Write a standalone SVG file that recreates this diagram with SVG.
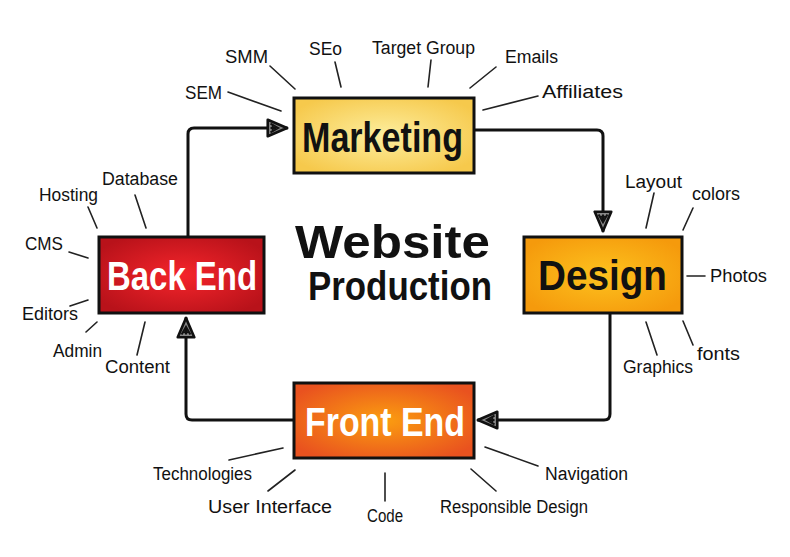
<svg xmlns="http://www.w3.org/2000/svg" width="790" height="557" viewBox="0 0 790 557">
<style>
.lbl{font-family:"Liberation Sans",sans-serif;font-size:18px;fill:#111;}
.tick{stroke:#222;stroke-width:1.6;fill:none;stroke-linecap:round;}
.conn{stroke:#111;stroke-width:3;fill:none;stroke-linejoin:round;stroke-linecap:round;}
.box{stroke:#111;stroke-width:3;}
.title{font-family:"Liberation Sans",sans-serif;font-weight:bold;}
</style>
<defs>
<radialGradient id="gMk" cx="50%" cy="50%" r="60%"><stop offset="0" stop-color="#fdee9e"/><stop offset="1" stop-color="#f6c94c"/></radialGradient>
<radialGradient id="gDs" cx="50%" cy="50%" r="60%"><stop offset="0" stop-color="#fdc21e"/><stop offset="1" stop-color="#f59a0c"/></radialGradient>
<radialGradient id="gBe" cx="50%" cy="50%" r="60%"><stop offset="0" stop-color="#f5252b"/><stop offset="1" stop-color="#b8121a"/></radialGradient>
<radialGradient id="gFe" cx="50%" cy="50%" r="60%"><stop offset="0" stop-color="#fb9d10"/><stop offset="1" stop-color="#e9521f"/></radialGradient>
<marker id="ah" viewBox="0 0 20 18" refX="19" refY="9" markerWidth="22" markerHeight="20" markerUnits="userSpaceOnUse" orient="auto">
<path d="M1.5,1.5 L19,9 L1.5,16.5 Z" fill="#888" stroke="#111" stroke-width="2.4" stroke-linejoin="round"/>
<path d="M4,5 L11,9 L4,13 M6,6 L6,12 M4,9 L9,9" fill="none" stroke="#111" stroke-width="1.8"/>
</marker>
</defs>
<rect width="790" height="557" fill="#fff"/>

<g id="connectors">
<path class="conn" d="M188,237 L188,134 Q188,128 194,128 L287,128" marker-end="url(#ah)"/>
<path class="conn" d="M474,130 L597,130 Q603,130 603,136 L603,231" marker-end="url(#ah)"/>
<path class="conn" d="M610,313 L610,414 Q610,420 604,420 L478,420" marker-end="url(#ah)"/>
<path class="conn" d="M294,420 L192,420 Q186,420 186,414 L186,318" marker-end="url(#ah)"/>
</g>

<g id="center">
<text class="title" x="295" y="258" font-size="46" fill="#111" textLength="195" lengthAdjust="spacingAndGlyphs">Website</text>
<text class="title" x="308" y="300" font-size="40" fill="#111" textLength="184" lengthAdjust="spacingAndGlyphs">Production</text>
</g>

<g id="marketing">
<rect class="box" x="294" y="98" width="180" height="75" fill="url(#gMk)"/>
<text class="title" x="302" y="152" font-size="42" fill="#111" textLength="161" lengthAdjust="spacingAndGlyphs">Marketing</text>
<path class="tick" d="M228,92 L281,111 M270,66 L295,89 M335,62 L341,87 M431,60 L428,87 M496,67 L470,88 M538,96 L483,110"/>
<text class="lbl" x="185" y="99" textLength="37" lengthAdjust="spacingAndGlyphs">SEM</text>
<text class="lbl" x="225" y="63" textLength="43" lengthAdjust="spacingAndGlyphs">SMM</text>
<text class="lbl" x="309" y="55" textLength="33" lengthAdjust="spacingAndGlyphs">SEo</text>
<text class="lbl" x="372" y="54" textLength="103" lengthAdjust="spacingAndGlyphs">Target Group</text>
<text class="lbl" x="505" y="63" textLength="53" lengthAdjust="spacingAndGlyphs">Emails</text>
<text class="lbl" x="542" y="98" textLength="81" lengthAdjust="spacingAndGlyphs">Affiliates</text>
</g>

<g id="design">
<rect class="box" x="524" y="237" width="158" height="76" fill="url(#gDs)"/>
<text class="title" x="538" y="290" font-size="42" fill="#111" textLength="129" lengthAdjust="spacingAndGlyphs">Design</text>
<path class="tick" d="M654,193 L646,228 M693,208 L683,230 M687,276 L705,276 M683,321 L693,345 M646,322 L657,355"/>
<text class="lbl" x="625" y="188" textLength="57" lengthAdjust="spacingAndGlyphs">Layout</text>
<text class="lbl" x="692" y="200" textLength="48" lengthAdjust="spacingAndGlyphs">colors</text>
<text class="lbl" x="710" y="282" textLength="57" lengthAdjust="spacingAndGlyphs">Photos</text>
<text class="lbl" x="697" y="360" textLength="43" lengthAdjust="spacingAndGlyphs">fonts</text>
<text class="lbl" x="623" y="373" textLength="70" lengthAdjust="spacingAndGlyphs">Graphics</text>
</g>

<g id="backend">
<rect class="box" x="99" y="237" width="165" height="76" fill="url(#gBe)"/>
<text class="title" x="107" y="290" font-size="40" fill="#fff" textLength="150" lengthAdjust="spacingAndGlyphs">Back End</text>
<path class="tick" d="M135,195 L146,228 M88,207 L97,228 M69,252 L88,258 M70,306 L88,300 M86,332 L97,322 M137,355 L145,322"/>
<text class="lbl" x="102" y="185" textLength="76" lengthAdjust="spacingAndGlyphs">Database</text>
<text class="lbl" x="39" y="201" textLength="59" lengthAdjust="spacingAndGlyphs">Hosting</text>
<text class="lbl" x="25" y="250" textLength="38" lengthAdjust="spacingAndGlyphs">CMS</text>
<text class="lbl" x="22" y="320" textLength="56" lengthAdjust="spacingAndGlyphs">Editors</text>
<text class="lbl" x="53" y="357" textLength="49" lengthAdjust="spacingAndGlyphs">Admin</text>
<text class="lbl" x="105" y="373" textLength="65" lengthAdjust="spacingAndGlyphs">Content</text>
</g>

<g id="frontend">
<rect class="box" x="294" y="383" width="180" height="75" fill="url(#gFe)"/>
<text class="title" x="305" y="436" font-size="40" fill="#fff" textLength="160" lengthAdjust="spacingAndGlyphs">Front End</text>
<path class="tick" d="M229,460 L283,448 M268,491 L295,470 M385,501 L385,473 M496,491 L471,469 M538,466 L485,447"/>
<text class="lbl" x="153" y="480" textLength="99" lengthAdjust="spacingAndGlyphs">Technologies</text>
<text class="lbl" x="208" y="513" textLength="124" lengthAdjust="spacingAndGlyphs">User Interface</text>
<text class="lbl" x="367" y="522" textLength="36" lengthAdjust="spacingAndGlyphs">Code</text>
<text class="lbl" x="440" y="513" textLength="148" lengthAdjust="spacingAndGlyphs">Responsible Design</text>
<text class="lbl" x="545" y="480" textLength="83" lengthAdjust="spacingAndGlyphs">Navigation</text>
</g>
</svg>
